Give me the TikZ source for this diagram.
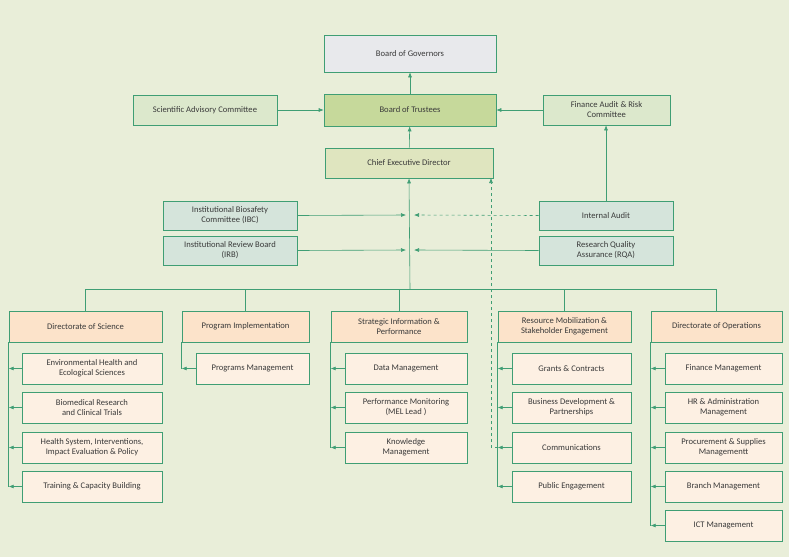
\documentclass[tikz,border=0pt]{standalone}
\usepackage{fontspec}
\setmainfont{Carlito}
\usetikzlibrary{arrows.meta}
\definecolor{bgc}{HTML}{E9EED9}
\definecolor{lnc}{HTML}{3F9E74}
\definecolor{gov}{HTML}{E8E9EC}
\definecolor{trs}{HTML}{C6D99B}
\definecolor{adv}{HTML}{DCE8CC}
\definecolor{ced}{HTML}{DFE5BF}
\definecolor{cmt}{HTML}{D5E4DB}
\definecolor{hed}{HTML}{FCE3CA}
\definecolor{sub}{HTML}{FDF0E3}
\definecolor{txc}{HTML}{3A3A3A}

\tikzset{
	box/.style={draw=lnc, semithick, text=txc, align=center, font=\fontsize{8.6}{10}\selectfont, inner sep=1pt},
	arr/.style={lnc, semithick, -{Latex[length=5pt,width=4pt]}},
	ln/.style={lnc, semithick}
}
% box from corner (x1,y1) to (x2,y2)
\newcommand{\orgbox}[7]{%
	\node[box, #6, minimum width={(#4-#2)*1pt}, minimum height={(#5-#3)*1pt}] (#1) at ({(#2+#4)/2},{(#3+#5)/2}) {#7};
}

\begin{document}
\begin{tikzpicture}[x=1pt,y=-1pt]
				\fill[bgc] (0,0) rectangle (789,557);
				\useasboundingbox (0,0) rectangle (789,557);
				
				%% top
				\orgbox{gov}{324}{35}{496}{72}{fill=gov}{Board of Governors}
				\orgbox{trs}{324}{94}{496}{126}{fill=trs}{Board of Trustees}
				\orgbox{sac}{133}{95}{277}{125}{fill=adv}{Scientific Advisory Committee}
				\orgbox{far}{543}{95}{670}{125}{fill=adv}{Finance Audit \& Risk\\Committee}
				\orgbox{ced}{325}{148}{493}{178}{fill=ced}{Chief Executive Director}
				\orgbox{ibc}{163}{201}{297}{230}{fill=cmt}{Institutional Biosafety\\Committee (IBC)}
				\orgbox{irb}{163}{236}{297}{265}{fill=cmt}{Institutional Review Board\\(IRB)}
				\orgbox{ia}{539}{201}{673}{230}{fill=cmt}{Internal Audit}
				\orgbox{rqa}{539}{236}{673}{265}{fill=cmt}{Research Quality\\Assurance (RQA)}
				
				\draw[arr] (trs) -- (gov);
				\draw[arr] (ced) -- (trs);
				\draw[arr] (sac) -- (trs);
				\draw[arr] (far.west) -- (trs.east |- far.west);
				\draw[arr] (ia.north) -- (ia.north |- far.south);
				
				%% trunk
				\coordinate (bus) at (410,289);
				\draw[arr] (bus) -- (ced.south);
				\draw[arr] (ibc.east) -- (406,215);
				\draw[arr] (irb.east) -- (406,250);
				\draw[arr, dashed] (ia.west) -- (414,215);
				\draw[arr] (rqa.west) -- (414,250);
				
				%% directorates
				\orgbox{dos}{9}{311}{162}{342}{fill=hed}{Directorate of Science}
				\orgbox{pim}{182}{311}{309}{342}{fill=hed}{Program Implementation}
				\orgbox{sip}{331}{311}{467}{342}{fill=hed}{Strategic Information \&\\Performance}
				\orgbox{rms}{498}{311}{631}{342}{fill=hed}{Resource Mobilization \&\\Stakeholder Engagement}
				\orgbox{dop}{651}{311}{782}{342}{fill=hed}{Directorate of Operations}
				\draw[ln] (dos.north |- bus) -- (dop.north |- bus);
				\foreach \d in {dos,pim,sip,rms,dop}{
					\draw[ln] (\d.north |- bus) -- (\d.north);
				}
				
				%% units
				\orgbox{ehe}{22}{353}{162}{384}{fill=sub}{Environmental Health and\\Ecological Sciences}
				\orgbox{bio}{22}{392}{162}{423}{fill=sub}{Biomedical Research\\and Clinical Trials}
				\orgbox{hsi}{22}{432}{162}{463}{fill=sub}{Health System, Interventions,\\Impact Evaluation \& Policy}
				\orgbox{tcb}{22}{471}{162}{502}{fill=sub}{Training \& Capacity Building}
				\orgbox{prm}{196}{353}{309}{384}{fill=sub}{Programs Management}
				\orgbox{dat}{345}{353}{467}{384}{fill=sub}{Data Management}
				\orgbox{pmo}{345}{392}{467}{423}{fill=sub}{Performance Monitoring\\(MEL Lead )}
				\orgbox{knm}{345}{432}{467}{463}{fill=sub}{Knowledge\\Management}
				\orgbox{grc}{512}{353}{631}{384}{fill=sub}{Grants \& Contracts}
				\orgbox{bdp}{512}{392}{631}{423}{fill=sub}{Business Development \&\\Partnerships}
				\orgbox{com}{512}{432}{631}{463}{fill=sub}{Communications}
				\orgbox{peg}{512}{471}{631}{502}{fill=sub}{Public Engagement}
				\orgbox{fin}{665}{353}{782}{384}{fill=sub}{Finance Management}
				\orgbox{hra}{665}{392}{782}{423}{fill=sub}{HR \& Administration\\Management}
				\orgbox{pro}{665}{432}{782}{463}{fill=sub}{Procurement \& Supplies\\Managementt}
				\orgbox{brm}{665}{471}{782}{502}{fill=sub}{Branch Management}
				\orgbox{ict}{665}{510}{782}{541}{fill=sub}{ICT Management}
				
				%% brackets
				\draw[ln] (dos.south west) -- (dos.south west |- tcb.west);
				\draw[ln] (pim.south west) -- (pim.south west |- prm.west);
				\draw[ln] (sip.south west) -- (sip.south west |- knm.west);
				\draw[ln] (rms.south west) -- (rms.south west |- peg.west);
				\draw[ln] (dop.south west) -- (dop.south west |- ict.west);
				\foreach \u in {ehe,bio,hsi,tcb}{ \draw[arr] (\u.west) -- (dos.west |- \u.west); }
				\draw[arr] (prm.west) -- (pim.west |- prm.west);
				\foreach \u in {dat,pmo,knm}{ \draw[arr] (\u.west) -- (sip.west |- \u.west); }
				\foreach \u in {grc,bdp,com,peg}{ \draw[arr] (\u.west) -- (rms.west |- \u.west); }
				\foreach \u in {fin,hra,pro,brm,ict}{ \draw[arr] (\u.west) -- (dop.west |- \u.west); }
				
				%% dashed link
				\draw[arr, dashed] (rms.west |- com.west) -- (491,447.5) -- (491,178);
\end{tikzpicture}
\end{document}
